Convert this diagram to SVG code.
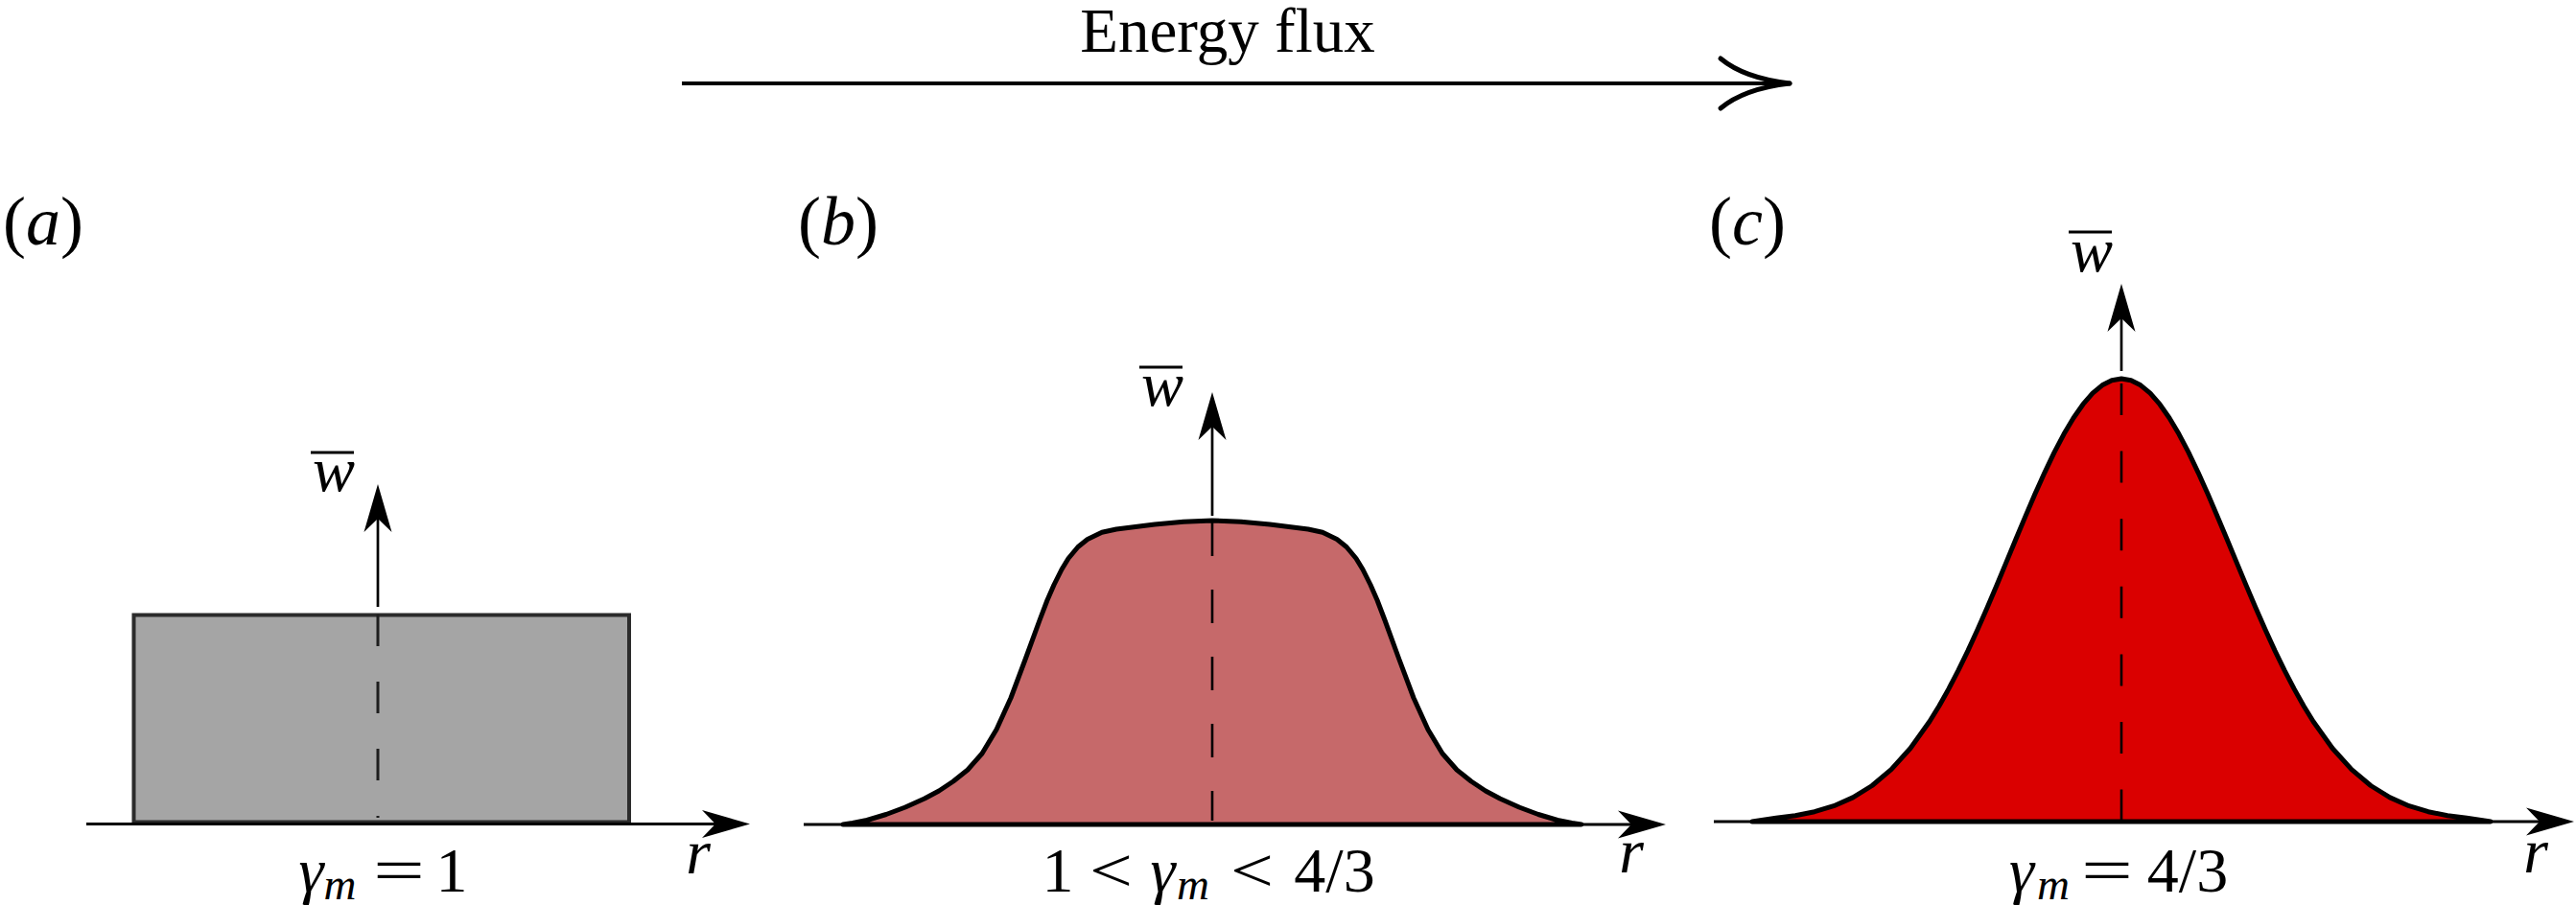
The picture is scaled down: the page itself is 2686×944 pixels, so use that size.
<svg xmlns="http://www.w3.org/2000/svg" xmlns:xlink="http://www.w3.org/1999/xlink" width="2686" height="944" viewBox="0 0 2686 944">
<style>
  text { font-family: "Liberation Serif", "Times New Roman", serif; fill: #000; }
  .it { font-style: italic; }
  .lbl { font-size: 72px; }
  .math { font-size: 66px; }
  .sub { font-size: 47px; font-style: italic; }
  .axis { stroke: #000; stroke-width: 3; fill: none; }
  .shaft { stroke: #000; stroke-width: 2.7; fill: none; }
  .dash { stroke: #000; stroke-width: 2.6; fill: none; }
  .bar { stroke: #000; stroke-width: 3; }
  .curve { stroke: #000; stroke-width: 5; stroke-linejoin: round; }
</style>
<defs>
  <path id="head" d="M0,0 L-50,-14.5 L-36,0 L-50,14.5 Z" fill="#000"/>
</defs>
<rect width="2686" height="944" fill="#fff"/>

<g id="connectors">
  <g id="energy-flux-arrow">
    <line x1="711" y1="87" x2="1863" y2="87" stroke="#000" stroke-width="4"/>
    <path d="M1866 87 C1840 84 1812 76 1794 61" fill="none" stroke="#000" stroke-width="5" stroke-linecap="round"/>
    <path d="M1866 87 C1840 90 1812 98 1794 113" fill="none" stroke="#000" stroke-width="5" stroke-linecap="round"/>
  </g>
</g>
<text x="1280" y="54" font-size="65" text-anchor="middle">Energy flux</text>

<g id="panel-a">
  <text class="lbl" x="3" y="255">(<tspan class="it">a</tspan>)</text>
  <rect x="139.5" y="641.5" width="516.5" height="216" fill="#a5a5a5" stroke="#2b2b2b" stroke-width="4"/>
  <line class="axis" x1="90" y1="859.5" x2="770" y2="859.5"/>
  <use xlink:href="#head" transform="translate(782,859.5)"/>
  <line x1="394" y1="641" x2="394" y2="853" stroke="#1e1e1e" stroke-width="3" stroke-dasharray="33 37"/>
  <line class="shaft" x1="394" y1="633" x2="394" y2="540"/>
  <use xlink:href="#head" transform="translate(394,505) rotate(-90)"/>
  <line class="bar" x1="324" y1="472" x2="369" y2="472"/>
  <text class="math it" x="348" y="512" text-anchor="middle">w</text>
  <text class="math it" x="728" y="911" text-anchor="middle">r</text>
  <text class="math it" x="324.5" y="930" text-anchor="middle">γ</text>
  <text class="sub" x="354.5" y="938" text-anchor="middle">m</text>
  <text class="math" x="389" y="930" textLength="54" lengthAdjust="spacingAndGlyphs">=</text>
  <text class="math" x="471" y="930" text-anchor="middle">1</text>
</g>

<g id="panel-b">
  <text class="lbl" x="832" y="255">(<tspan class="it">b</tspan>)</text>
  <line class="axis" x1="838" y1="860" x2="1725" y2="860"/>
  <use xlink:href="#head" transform="translate(1737,860)"/>
  <path class="curve" fill="#c6696a" d="M879 860 L889 858.5 L904 855.5 L924 849.5 L944 842 L964 833 L979 825 L994 815 L1009 803 L1024 786 L1039 761 L1054 728 L1069 688 L1084 647 L1092 626 L1099 610 L1107 594 L1114 582.5 L1124 570.5 L1134 562.5 L1149 555.3 L1164 552 L1184 549.5 L1204 547 L1234 544.2 L1264 543 L1294 544.2 L1324 547 L1344 549.5 L1364 552 L1379 555.3 L1394 562.5 L1404 570.5 L1414 582.5 L1421 594 L1429 610 L1436 626 L1444 647 L1459 688 L1474 728 L1489 761 L1504 786 L1519 803 L1534 815 L1549 825 L1564 833 L1584 842 L1604 849.5 L1624 855.5 L1639 858.5 L1649 860 Z"/>
  <line class="dash" x1="1264" y1="545" x2="1264" y2="856" stroke-dasharray="35 35"/>
  <line class="shaft" x1="1264" y1="538" x2="1264" y2="444"/>
  <use xlink:href="#head" transform="translate(1264,409) rotate(-90)"/>
  <line class="bar" x1="1188" y1="383" x2="1233" y2="383"/>
  <text class="math it" x="1212" y="423" text-anchor="middle">w</text>
  <text class="math it" x="1701" y="910" text-anchor="middle">r</text>
  <text class="math" x="1103" y="930" text-anchor="middle">1</text>
  <text class="math" x="1136" y="930" textLength="45" lengthAdjust="spacingAndGlyphs">&lt;</text>
  <text class="math it" x="1212.5" y="930" text-anchor="middle">γ</text>
  <text class="sub" x="1244" y="938" text-anchor="middle">m</text>
  <text class="math" x="1283" y="930" textLength="45" lengthAdjust="spacingAndGlyphs">&lt;</text>
  <text class="math" x="1391.5" y="930" text-anchor="middle">4/3</text>
</g>

<g id="panel-c">
  <text class="lbl" x="1782" y="255">(<tspan class="it">c</tspan>)</text>
  <line class="axis" x1="1787" y1="857" x2="2672" y2="857"/>
  <use xlink:href="#head" transform="translate(2684,857)"/>
  <path class="curve" fill="#da0000" d="M1827 857 L1852 853.3 L1872 850.7 L1892 846.7 L1912 840.7 L1932 831.9 L1952 819.5 L1972 802.7 L1992 780.5 L2012 752.5 L2022 736.2 L2032 718.4 L2042 699.1 L2052 678.6 L2062 656.8 L2072 634 L2082 610.4 L2092 586.4 L2102 562.3 L2112 538.4 L2122 515.1 L2132 492.8 L2142 471.9 L2152 452.8 L2162 436 L2172 421.7 L2182 410.2 L2192 401.8 L2202 396.7 L2212 395 L2222 396.7 L2232 401.8 L2242 410.2 L2252 421.7 L2262 436 L2272 452.8 L2282 471.9 L2292 492.8 L2302 515.1 L2312 538.4 L2322 562.3 L2332 586.4 L2342 610.4 L2352 634 L2362 656.8 L2372 678.6 L2382 699.1 L2392 718.4 L2402 736.2 L2412 752.5 L2432 780.5 L2452 802.7 L2472 819.5 L2492 831.9 L2512 840.7 L2532 846.7 L2552 850.7 L2572 853.3 L2597 857 Z"/>
  <line class="dash" x1="2212" y1="400" x2="2212" y2="857" stroke-dasharray="33 37.6"/>
  <line class="shaft" x1="2212" y1="387" x2="2212" y2="331"/>
  <use xlink:href="#head" transform="translate(2212,296) rotate(-90)"/>
  <line class="bar" x1="2157" y1="242" x2="2202" y2="242"/>
  <text class="math it" x="2181" y="283" text-anchor="middle">w</text>
  <text class="math it" x="2644" y="910" text-anchor="middle">r</text>
  <text class="math it" x="2108" y="930" text-anchor="middle">γ</text>
  <text class="sub" x="2141" y="938" text-anchor="middle">m</text>
  <text class="math" x="2170" y="930" textLength="54" lengthAdjust="spacingAndGlyphs">=</text>
  <text class="math" x="2281" y="930" text-anchor="middle">4/3</text>
</g>
</svg>
